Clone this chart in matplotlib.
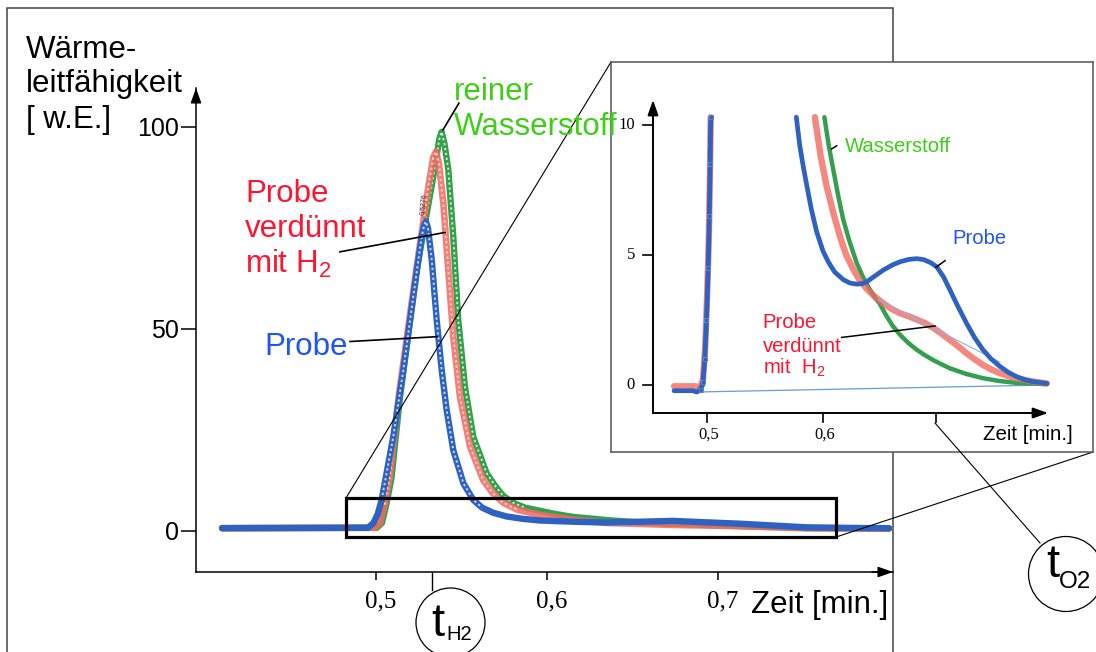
import matplotlib
matplotlib.use('Agg')
import matplotlib.pyplot as plt
from matplotlib.patches import Circle, Rectangle, ConnectionPatch
from matplotlib.transforms import ScaledTranslation
import numpy as np

plt.rcParams['font.family'] = ['Liberation Sans', 'DejaVu Sans']
plt.rcParams['mathtext.fontset'] = 'custom'
plt.rcParams['mathtext.rm'] = 'Liberation Sans'
plt.rcParams['mathtext.it'] = 'Liberation Sans:italic'

# ---------------- data: main chromatogram ----------------
blue_t = [0.410, 0.4953, 0.4985, 0.5010, 0.5033, 0.5101, 0.516, 0.5218, 0.5267, 0.5282, 0.5292,
          0.5304, 0.5326, 0.5355, 0.5384, 0.5413, 0.5452, 0.5511, 0.5569, 0.5620, 0.5686, 0.5764,
          0.5860, 0.5959, 0.615, 0.635, 0.655, 0.6737, 0.690, 0.713, 0.7519, 0.780, 0.800]
blue_v = [0.7, 0.8, 2.0, 4.2, 7.7, 23.3, 39.9, 58.0, 72.8, 75.8, 76.6,
          75.0, 67.1, 52.2, 39.9, 30.0, 20.0, 11.8, 7.7, 5.8, 4.5, 3.6,
          3.0, 2.6, 2.3, 2.1, 2.3, 2.5, 2.2, 1.8, 0.9, 0.75, 0.7]

red_t = [0.410, 0.4995, 0.5025, 0.5050, 0.5080, 0.5135, 0.523, 0.5306, 0.5335, 0.5351, 0.5368,
         0.5394, 0.5423, 0.5452, 0.5491, 0.555, 0.5627, 0.5680, 0.5744, 0.5830, 0.5959, 0.615,
         0.635, 0.6737, 0.713, 0.7519, 0.800]
red_v = [0.7, 0.8, 2.0, 6.5, 13.5, 34.0, 63.0, 85.2, 92.5, 93.9, 91.0,
         81.1, 64.6, 48.1, 33.2, 20.9, 12.6, 9.5, 7.0, 5.2, 4.0, 2.8,
         2.0, 1.5, 1.2, 0.7, 0.6]

green_t = [0.410, 0.5005, 0.5035, 0.5060, 0.5090, 0.514, 0.5238, 0.5335, 0.5370, 0.5384, 0.5400,
           0.5423, 0.5452, 0.5481, 0.552, 0.5569, 0.5647, 0.5700, 0.5744, 0.580, 0.5870, 0.5959,
           0.605, 0.615, 0.635, 0.655, 0.6737, 0.713, 0.7519, 0.800]
green_v = [0.7, 0.8, 2.0, 6.5, 13.0, 33.0, 64.6, 87.7, 97.0, 98.8, 96.0,
           89.4, 72.8, 52.2, 35.7, 23.3, 14.3, 11.0, 8.7, 7.0, 5.8, 5.0,
           4.2, 3.5, 2.7, 2.1, 1.8, 1.2, 0.7, 0.6]

main_xticks = [0.5, 0.6, 0.7]
main_xticklabels = ['0,5', '0,6', '0,7']
main_yticks = [0, 50, 100]
main_yticklabels = ['0', '50', '100']
t_H2 = 0.533

# ---------------- data: inset (zoom) ----------------
in_blue_t = [0.4716, 0.4880, 0.4911, 0.4945, 0.4965, 0.498, 0.4995, 0.501, 0.502, 0.5027, 0.5032,
             np.nan,
             0.5770, 0.5800, 0.5830, 0.5859, 0.5900, 0.5945, 0.6000, 0.6050, 0.6100, 0.6175,
             0.6233, 0.6290, 0.6340, 0.6377, 0.6450, 0.6520, 0.6600, 0.6664, 0.6740, 0.6808,
             0.6870, 0.6930, 0.6980, 0.7040, 0.7095, 0.7160, 0.7238, 0.7310, 0.7380, 0.7450,
             0.7526, 0.7600, 0.7670, 0.7740, 0.7810, 0.7930]
in_blue_v = [-0.22, -0.22, -0.27, -0.2, 0.1, 1.0, 2.5, 4.5, 6.5, 8.5, 10.3,
             np.nan,
             10.3, 9.2, 8.4, 7.7, 6.75, 5.9, 5.15, 4.7, 4.35, 4.05,
             3.92, 3.88, 3.9, 3.97, 4.2, 4.42, 4.62, 4.74, 4.83, 4.86,
             4.82, 4.70, 4.55, 4.15, 3.65, 3.05, 2.37, 1.80, 1.35, 1.0,
             0.71, 0.48, 0.32, 0.2, 0.13, 0.06]

in_red_t = [0.4716, 0.4900, 0.4940, 0.4965, 0.4985, 0.5, 0.5015, 0.5025, 0.5032,
            np.nan,
            0.5930, 0.5980, 0.6032, 0.6090, 0.6147, 0.6200, 0.6261, 0.6320, 0.6377, 0.6450,
            0.6520, 0.6590, 0.6664, 0.6740, 0.6807, 0.6880, 0.6950, 0.7020, 0.7095, 0.7170,
            0.7238, 0.7310, 0.7380, 0.7450, 0.7526, 0.7600, 0.7670, 0.7800, 0.7930]
in_red_v = [-0.05, -0.05, -0.1, 0.2, 1.5, 3.3, 5.5, 8.0, 10.3,
            np.nan,
            10.3, 8.8, 7.63, 6.6, 5.7, 5.0, 4.45, 4.0, 3.7, 3.38,
            3.14, 2.93, 2.76, 2.64, 2.52, 2.38, 2.2, 1.98, 1.73, 1.47,
            1.22, 0.98, 0.77, 0.6, 0.45, 0.34, 0.26, 0.14, 0.06]

in_green_t = [0.4930, 0.4965, 0.4985, 0.5005, 0.5018, 0.5027, 0.5035,
              np.nan,
              0.6012, 0.6050, 0.6089, 0.6130, 0.6175, 0.6230, 0.6290, 0.6345, 0.6400, 0.6450,
              0.6490, 0.6548, 0.6600, 0.6664, 0.6735, 0.6807, 0.6880, 0.6950, 0.7020, 0.7095,
              0.7238, 0.7380, 0.7526, 0.7670, 0.7930]
in_green_v = [-0.15, 0.0, 1.2, 3.5, 6.0, 8.5, 10.3,
              np.nan,
              10.3, 9.2, 8.27, 7.3, 6.35, 5.5, 4.7, 4.15, 3.7, 3.35,
              3.12, 2.65, 2.28, 1.93, 1.62, 1.36, 1.14, 0.96, 0.8, 0.64,
              0.42, 0.26, 0.15, 0.08, 0.03]

in_base_t = [0.4911, 0.793]
in_base_v = [-0.27, 0.0]
in_tangent_t = [0.6475, 0.7526]
in_tangent_v = [3.27, 0.88]

inset_xticks = [0.5, 0.6]
inset_xticklabels = ['0,5', '0,6']
inset_yticks = [0, 5, 10]
inset_yticklabels = ['0', '5', '10']
t_O2 = 0.697

# ---------------- colours ----------------
C_BLUE = '#2e62c2'
C_RED = '#f26a60'
C_GREEN = '#34a04e'
T_BLUE = '#1f55f5'
T_RED = '#ff1530'
T_GREEN = '#3ccf14'

W, H = 1096, 652
fig = plt.figure(figsize=(W / 100, H / 100), dpi=100)


def fx(px):
    return px / W


def fy(py):
    return 1 - py / H


# background overlay (pixel coordinates)
bg = fig.add_axes([0, 0, 1, 1], zorder=0)
bg.set_xlim(0, W)
bg.set_ylim(H, 0)
bg.axis('off')
bg.plot([6.5, 6.5, 893, 893], [H, 7.5, 7.5, H], color='#444444', lw=1.1,
        solid_joinstyle='miter')

# ---------------- main axes ----------------
ax = fig.add_axes([fx(196), fy(572), (893 - 196) / W, (572 - 88) / H], zorder=1)
ax.set_facecolor('none')
ax.set_xlim(0.39474, 0.80234)
ax.set_ylim(-10.149, 109.65)
ax.spines['top'].set_visible(False)
ax.spines['right'].set_visible(False)
for s in ('left', 'bottom'):
    ax.spines[s].set_linewidth(1.1)
ax.set_xticks(main_xticks)
ax.set_xticklabels(main_xticklabels, fontfamily='Liberation Serif', fontsize=18)
ax.set_yticks(main_yticks)
ax.set_yticklabels(main_yticklabels, fontsize=18)
ax.tick_params(axis='x', direction='out', length=6, width=1.1, pad=7)
ax.tick_params(axis='y', direction='out', length=11, width=1.1, pad=1.5)
for lab in ax.get_xticklabels():
    lab.set_transform(lab.get_transform() + ScaledTranslation(5 / 100, 0, fig.dpi_scale_trans))
# arrow heads
ax.annotate('', xy=(1.0, 0), xytext=(0.97, 0), xycoords='axes fraction',
            arrowprops=dict(arrowstyle='-|>,head_length=0.9,head_width=0.32', color='black',
                            lw=1.1, shrinkA=0, shrinkB=0, mutation_scale=10), annotation_clip=False)
ax.annotate('', xy=(0, 1.0), xytext=(0, 0.97), xycoords='axes fraction',
            arrowprops=dict(arrowstyle='-|>,head_length=0.9,head_width=0.32', color='black',
                            lw=1.1, shrinkA=0, shrinkB=0, mutation_scale=10), annotation_clip=False)
# t_H2 marker tick
ax.plot([t_H2, t_H2], [0, -18 / 484], transform=ax.get_xaxis_transform(),
        color='black', lw=1.0, clip_on=False)


def chain(a, t, v, color, core, lw, z, alpha=1.0, thr=5.0):
    t = np.asarray(t, float)
    v = np.asarray(v, float)
    a.plot(t, v, color=color, lw=lw, alpha=alpha, zorder=z,
           solid_capstyle='round', solid_joinstyle='round')
    vc = np.where(v > thr, v, np.nan)
    a.plot(t, vc, color=core, lw=lw * 0.3, dashes=(1.2, 1.4), zorder=z + 0.1, alpha=0.9)


chain(ax, green_t, green_v, C_GREEN, '#e4f2cf', 4.6, 2)
chain(ax, red_t, red_v, C_RED, '#fcd6d2', 4.8, 3, alpha=0.85)
chain(ax, blue_t, blue_v, C_BLUE, '#dbe6f8', 4.6, 4)

ax.text(0.5284, 81, '0.5276', rotation=85, fontsize=5, color='#333333',
        ha='center', va='center', zorder=6)

# annotation leader lines (main)
ax.plot([0.4789, 0.5404], [69.1, 73.9], color='black', lw=1.2, zorder=7, clip_on=False)
ax.plot([0.4848, 0.5357], [46.9, 48.1], color='black', lw=1.2, zorder=7, clip_on=False)
ax.plot([0.5392, 0.5485], [99.3, 105.9], color='black', lw=1.2, zorder=7, clip_on=False)

# zoom box
box_x0, box_x1, box_y0, box_y1 = 0.48246, 0.769, -1.5, 8.17
ax.add_patch(Rectangle((box_x0, box_y0), box_x1 - box_x0, box_y1 - box_y0,
                       fill=False, lw=2.3, edgecolor='black', zorder=8))

# ---------------- inset axes ----------------
ins = fig.add_axes([fx(611), fy(452), (1093 - 611) / W, (452 - 62) / H], zorder=3)
ins.set_xlim(0.41724, 0.83276)
ins.set_ylim(-2.577, 12.423)
ins.set_xticks([])
ins.set_yticks([])
ins.set_facecolor('white')
for s in ins.spines.values():
    s.set_color('#555555')
    s.set_linewidth(1.1)

IX0, IX1, IY0, IY1 = 0.45345, 0.79397, -1.077, 10.96
ins.annotate('', xy=(IX1, IY0), xytext=(IX0, IY0), xycoords='data',
             arrowprops=dict(arrowstyle='-|>,head_length=0.9,head_width=0.32', color='black',
                             lw=1.4, shrinkA=0, shrinkB=0, mutation_scale=10))
ins.annotate('', xy=(IX0, IY1), xytext=(IX0, IY0), xycoords='data',
             arrowprops=dict(arrowstyle='-|>,head_length=0.9,head_width=0.32', color='black',
                             lw=1.4, shrinkA=0, shrinkB=0, mutation_scale=10))
for yt, yl in zip(inset_yticks, inset_yticklabels):
    ins.plot([IX0 - 10 / 1160, IX0], [yt, yt], color='black', lw=1.2)
    ins.annotate(yl, xy=(IX0, yt), xytext=(-13, 0), textcoords='offset points',
                 ha='right', va='center', fontsize=12, fontfamily='Liberation Serif')
for xt, xl in zip(inset_xticks + [t_O2], inset_xticklabels + ['']):
    ins.plot([xt, xt], [IY0, IY0 - 9 / 26], color='black', lw=1.2)
    if xl:
        ins.annotate(xl, xy=(xt, IY0), xytext=(1, -10), textcoords='offset points',
                     ha='center', va='top', fontsize=12, fontfamily='Liberation Serif')

ins.plot(in_base_t, in_base_v, color='#6a9ae0', lw=0.9, zorder=2)
ins.plot(in_green_t, in_green_v, color=C_GREEN, lw=3.2, zorder=3,
         solid_joinstyle='round', solid_capstyle='round')
ins.plot(in_red_t, in_red_v, color=C_RED, lw=4.6, alpha=0.8, zorder=4,
         solid_joinstyle='round', solid_capstyle='round')
ins.plot(in_tangent_t, in_tangent_v, color='#8fb0e8', lw=0.8, zorder=4.5)
ins.plot(in_blue_t, in_blue_v, color=C_BLUE, lw=3.4, zorder=5,
         solid_joinstyle='round', solid_capstyle='round')
ins.plot(in_blue_t[3:11], in_blue_v[3:11], ls='none', marker='s', ms=3, mfc='none',
         mec='#5a86cf', mew=0.7, zorder=6)

# inset leader lines
ins.plot([0.6075, 0.6118], [9.08, 9.2], color='black', lw=1.1, zorder=7)
ins.plot([0.6974, 0.7052], [4.53, 4.78], color='black', lw=1.1, zorder=7)
ins.plot([0.6161, 0.6966], [1.83, 2.27], color='black', lw=1.1, zorder=7)

# connection lines box -> inset
for (xa, ya), (xb, yb) in [((box_x0, box_y1), (0, 1)), ((box_x1, box_y0), (1, 0))]:
    cp = ConnectionPatch(xyA=(xa, ya), coordsA='data', axesA=ax,
                         xyB=(xb, yb), coordsB='axes fraction', axesB=ins,
                         color='black', lw=0.8, zorder=2.5)
    fig.add_artist(cp)

# ---------------- top overlay (texts, circles) ----------------
top = fig.add_axes([0, 0, 1, 1], zorder=5)
top.set_xlim(0, W)
top.set_ylim(H, 0)
top.axis('off')
top.patch.set_alpha(0)

FS = 22.5
top.text(26, 58, 'Wärme-', fontsize=FS, va='baseline')
top.text(26, 92, 'leitfähigkeit', fontsize=FS, va='baseline')
top.text(26, 128, '[ w.E.]', fontsize=FS, va='baseline')
top.text(454, 100, 'reiner', fontsize=FS, va='baseline', color=T_GREEN)
top.text(454, 135, 'Wasserstoff', fontsize=FS, va='baseline', color=T_GREEN)
top.text(245, 202, 'Probe', fontsize=FS, va='baseline', color=T_RED)
top.text(245, 237, 'verdünnt', fontsize=FS, va='baseline', color=T_RED)
top.text(245, 273, 'mit H$_2$', fontsize=FS, va='baseline', color=T_RED)
top.text(264, 355, 'Probe', fontsize=FS, va='baseline', color=T_BLUE)
top.text(751, 613, 'Zeit [min.]', fontsize=FS, va='baseline')

FSI = 14.6
top.text(845, 151.7, 'Wasserstoff', fontsize=FSI, va='baseline', color=T_GREEN)
top.text(952.7, 244, 'Probe', fontsize=FSI, va='baseline', color=T_BLUE)
top.text(762.7, 328, 'Probe', fontsize=FSI, va='baseline', color=T_RED)
top.text(762.7, 351.7, 'verdünnt', fontsize=FSI, va='baseline', color=T_RED)
top.text(762.7, 373.3, 'mit  H$_2$', fontsize=FSI, va='baseline', color=T_RED)
top.text(982.7, 440, 'Zeit [min.]', fontsize=14.8, va='baseline')

# t_H2 circle
top.add_patch(Circle((450.5, 622.5), 34.5, fill=False, lw=0.9, edgecolor='black'))
top.text(431.5, 636.5, 't', fontsize=34, va='baseline')
top.text(446.5, 640, 'H2', fontsize=14.5, va='baseline')
# t_O2 circle
top.add_patch(Circle((1066, 574), 37.5, fill=False, lw=0.9, edgecolor='black'))
top.text(1046.7, 577, 't', fontsize=34, va='baseline')
top.text(1059, 588, 'O2', fontsize=17.5, va='baseline')
top.plot([935, 1040], [423, 543], color='black', lw=0.8)

fig.savefig('out.png', dpi=100)
